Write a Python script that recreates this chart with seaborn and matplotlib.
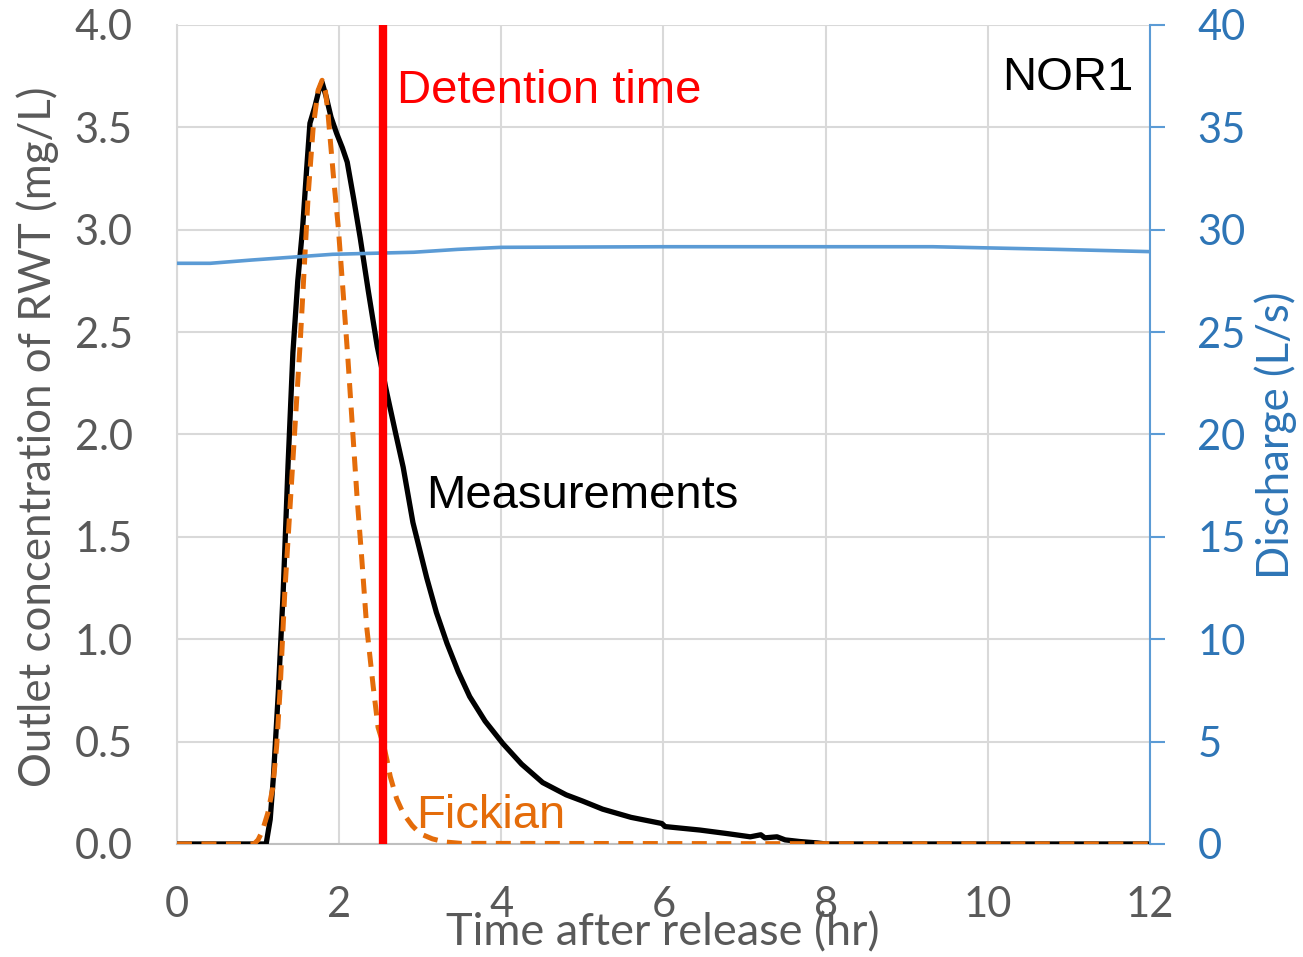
import numpy as np
import pandas as pd
import matplotlib
matplotlib.use("Agg")
import matplotlib.pyplot as plt
from matplotlib.ticker import MultipleLocator, FormatStrFormatter
import seaborn as sns

# measured outlet concentration (mg/L) vs time (hr)
time_meas = [0, 1.10, 1.15, 1.19, 1.25, 1.31, 1.37, 1.43, 1.49, 1.55, 1.60, 1.64, 1.70,
             1.75, 1.79, 1.84, 1.90, 1.97, 2.04, 2.10, 2.18, 2.26, 2.36, 2.47, 2.59, 2.70,
             2.79, 2.91, 3.08, 3.20, 3.33, 3.47, 3.61, 3.80, 4.02, 4.25, 4.51, 4.80, 5.00,
             5.25, 5.60, 5.98, 6.02, 6.45, 6.80, 7.07, 7.20, 7.25, 7.40, 7.50, 7.68, 7.90,
             8.00, 12.0]
conc_meas = [0, 0, 0.12, 0.33, 0.74, 1.23, 1.85, 2.40, 2.75, 3.01, 3.30, 3.52, 3.60,
             3.68, 3.72, 3.65, 3.55, 3.47, 3.40, 3.33, 3.15, 2.96, 2.70, 2.43, 2.20, 2.00,
             1.84, 1.57, 1.30, 1.13, 0.98, 0.84, 0.72, 0.60, 0.49, 0.39, 0.30, 0.24, 0.21,
             0.17, 0.13, 0.10, 0.085, 0.068, 0.05, 0.035, 0.045, 0.03, 0.035, 0.02, 0.012,
             0.005, 0, 0]

# Fickian model fit
time_fick = [0, 0.95, 1.00, 1.05, 1.12, 1.18, 1.23, 1.27, 1.33, 1.42, 1.52, 1.62, 1.68,
             1.74, 1.79, 1.83, 1.86, 1.93, 1.99, 2.05, 2.11, 2.17, 2.22, 2.28, 2.34, 2.42,
             2.48, 2.55, 2.59, 2.63, 2.71, 2.79, 2.90, 3.00, 3.15, 3.30, 3.50, 12.0]
conc_fick = [0, 0, 0.02, 0.06, 0.15, 0.27, 0.48, 0.74, 1.23, 1.81, 2.45, 3.18, 3.50,
             3.68, 3.73, 3.68, 3.58, 3.26, 3.01, 2.69, 2.36, 2.00, 1.70, 1.39, 1.06, 0.77,
             0.57, 0.48, 0.41, 0.33, 0.22, 0.15, 0.09, 0.05, 0.025, 0.01, 0.003, 0]

# discharge (L/s)
time_q = [0, 0.41, 0.92, 1.92, 2.92, 3.46, 4.0, 6.0, 9.32, 10.86, 12.0]
discharge = [28.36, 28.36, 28.52, 28.80, 28.90, 29.04, 29.14, 29.17, 29.17, 29.04, 28.93]

detention_time = 2.54

sns.set_style("white")
plt.rcParams['font.family'] = ['Lato', 'DejaVu Sans']

gray_txt = '#595959'
blue_line = '#5B9BD5'
blue_txt = '#2E75B6'
orange = '#E46C0A'

fig = plt.figure(figsize=(13.03, 9.57), dpi=100)
ax = fig.add_axes([0.1358, 0.1181, 0.7468, 0.8558])

meas = pd.DataFrame({'t': time_meas, 'c': conc_meas})
fick = pd.DataFrame({'t': time_fick, 'c': conc_fick})
flow = pd.DataFrame({'t': time_q, 'q': discharge})

sns.lineplot(data=meas, x='t', y='c', ax=ax, color='black', lw=3.8, zorder=3)
sns.lineplot(data=fick, x='t', y='c', ax=ax, color=orange, lw=3.6, zorder=4,
             linestyle=(0, (3.0, 1.9)))

ax.set_xlim(0, 12)
ax.set_ylim(0, 4)
ax.xaxis.set_major_locator(MultipleLocator(2))
ax.xaxis.set_minor_locator(MultipleLocator(0.5))
ax.yaxis.set_major_locator(MultipleLocator(0.5))
ax.yaxis.set_major_formatter(FormatStrFormatter('%.1f'))
ax.grid(True, which='major', color='#D9D9D9', lw=1.5)
ax.set_axisbelow(True)

for s in ['top', 'right']:
    ax.spines[s].set_visible(False)
ax.spines['left'].set_color('#D9D9D9')
ax.spines['left'].set_linewidth(1.5)
ax.spines['bottom'].set_color('#BFBFBF')
ax.spines['bottom'].set_linewidth(1.5)

ax.tick_params(axis='x', which='major', direction='inout', length=20, width=1.5,
               color='#BFBFBF', pad=20, labelsize=30, labelcolor=gray_txt)
ax.tick_params(axis='x', which='minor', direction='out', length=9, width=1.5,
               color='#BFBFBF')
ax.tick_params(axis='y', length=0, pad=32, labelsize=30, labelcolor=gray_txt)

ax.set_xlabel('Time after release (hr)', fontsize=32.5, color=gray_txt)
ax.xaxis.label.set_va('center')
ax.xaxis.set_label_coords(0.4995, -0.1087)
ax.set_ylabel('Outlet concentration of RWT (mg/L)', fontsize=31.5, color=gray_txt)
ax.yaxis.label.set_va('center')
ax.yaxis.set_label_coords(-0.143, 0.4976)

# discharge on the secondary axis
ax2 = ax.twinx()
sns.lineplot(data=flow, x='t', y='q', ax=ax2, color=blue_line, lw=2.6)
ax2.axvline(detention_time, color='#FF0000', lw=6, zorder=5)
ax2.set_ylim(0, 40)
ax2.yaxis.set_major_locator(MultipleLocator(5))
for s in ['top', 'left', 'bottom']:
    ax2.spines[s].set_visible(False)
ax2.spines['right'].set_color(blue_line)
ax2.spines['right'].set_linewidth(1.5)
ax2.tick_params(axis='y', direction='out', length=11, width=1.5, color=blue_line,
                pad=23, labelsize=30, labelcolor=blue_txt)
ax2.set_ylabel('Discharge (L/s)', fontsize=31.5, color=blue_txt)
ax2.yaxis.label.set_va('center')
ax2.yaxis.set_label_coords(1.1295, 0.4994)

lab_font = ['Liberation Sans', 'DejaVu Sans']
ax.text(2.71, 3.62, 'Detention time', color='#FF0000', fontsize=34, family=lab_font,
        va='baseline', ha='left')
ax.text(10.17, 3.68, 'NOR1', color='black', fontsize=34, family=lab_font,
        va='baseline', ha='left')
ax.text(3.07, 1.64, 'Measurements', color='black', fontsize=34, family=lab_font,
        va='baseline', ha='left')
ax.text(2.95, 0.078, 'Fickian', color=orange, fontsize=34, family=lab_font,
        va='baseline', ha='left', zorder=6)

fig.savefig('out.png', dpi=100)
